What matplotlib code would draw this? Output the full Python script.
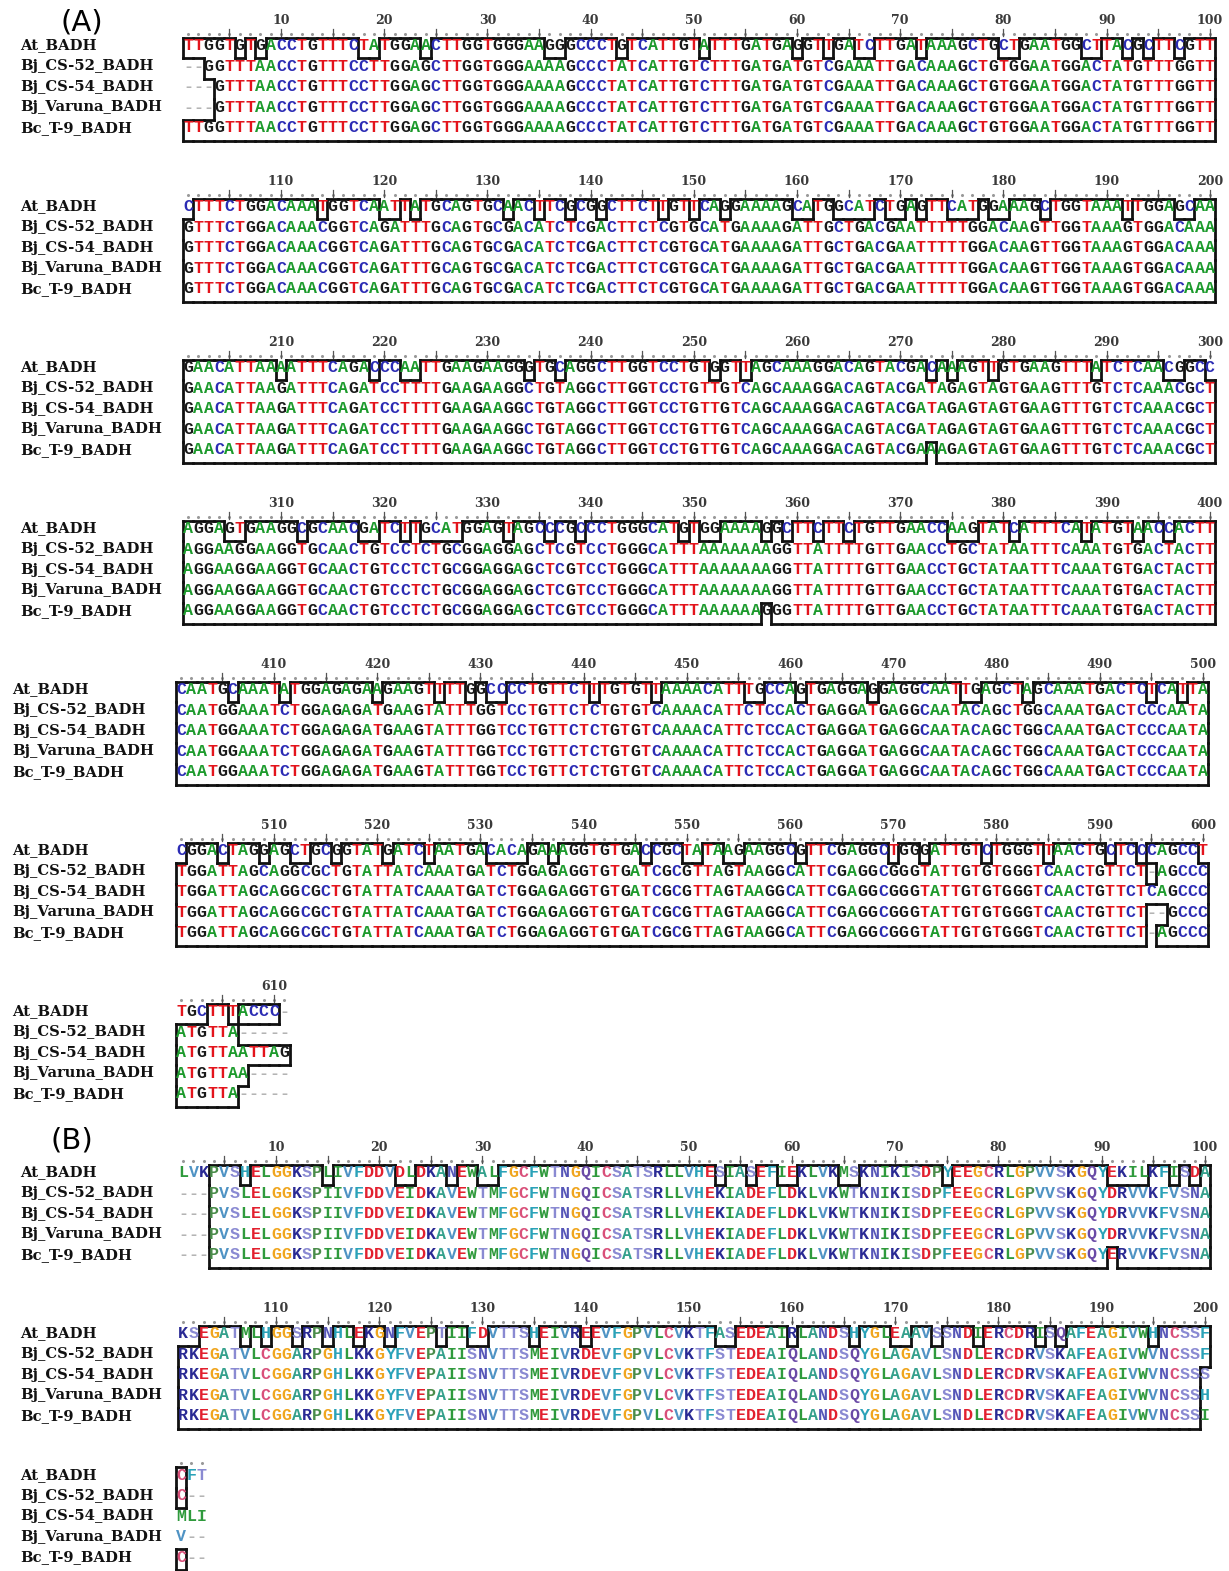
import matplotlib.pyplot as plt
from matplotlib.collections import LineCollection

names = ['At_BADH', 'Bj_CS-52_BADH', 'Bj_CS-54_BADH', 'Bj_Varuna_BADH', 'Bc_T-9_BADH']

# nucleotide alignment, one string per 100-column block
at_dna = [
    "TTGGTGTGAC" "CTGTTTCTAT" "GGAACTTGGT" "GGGAAGGGCC" "CTGTCATTGT" "ATTTGATGAG" "GTTGATCTTG" "ATAAAGCTGC" "TGAATGGCTT" "ACGCTTCGTT",
    "CTTTCTGGAC" "AAATGGTCAA" "TTATGCAGTG" "CAACTTCGCG" "GCTTCTTGTT" "CAGGAAAAGC" "ATGGCATCTG" "AGTTCATGGA" "AAGCTGGTAA" "ATTGGAGCAA",
    "GAACATTAAA" "ATTTCAGACC" "CAATTGAAGA" "AGGGTGCAGG" "CTTGGTCCTG" "TGGTTAGCAA" "AGGACAGTAC" "GACAAAGTTG" "TGAAGTTTAT" "CTCAACGGCC",
    "AGGAGTGAAG" "GCGCAACGAT" "CTTGCATGGA" "GTAGCCCGCC" "CTGGGCATGT" "GGAAAAGGCT" "TCTTCTGTTG" "AACCAAGTAT" "CATTTCATAT" "GTAACCACTT",
    "CAATGCAAAT" "ATGGAGAGAA" "GAAGTTTTGG" "CCCCTGTTCT" "TTGTGTTAAA" "ACATTTGCCA" "GTGAGGAGGA" "GGCAATTGAG" "CTAGCAAATG" "ACTCTCATTA",
    "CGGACTAGGA" "GCTGCGGTAT" "GATCTAATGA" "CACAGAAAGG" "TGTGACCGCT" "ATAAGAAGGC" "GTTCGAGGCT" "GGGATTGTCT" "GGGTTAACTG" "CTCCCAGCCT",
    "TGCTTTACCC-",
]
cs52_dna = [
    "--GGTTTAAC" "CTGTTTCCTT" "GGAGCTTGGT" "GGGAAAAGCC" "CTATCATTGT" "CTTTGATGAT" "GTCGAAATTG" "ACAAAGCTGT" "GGAATGGACT" "ATGTTTGGTT",
    "GTTTCTGGAC" "AAACGGTCAG" "ATTTGCAGTG" "CGACATCTCG" "ACTTCTCGTG" "CATGAAAAGA" "TTGCTGACGA" "ATTTTTGGAC" "AAGTTGGTAA" "AGTGGACAAA",
    "GAACATTAAG" "ATTTCAGATC" "CTTTTGAAGA" "AGGCTGTAGG" "CTTGGTCCTG" "TTGTCAGCAA" "AGGACAGTAC" "GATAGAGTAG" "TGAAGTTTGT" "CTCAAACGCT",
    "AGGAAGGAAG" "GTGCAACTGT" "CCTCTGCGGA" "GGAGCTCGTC" "CTGGGCATTT" "AAAAAAAGGT" "TATTTTGTTG" "AACCTGCTAT" "AATTTCAAAT" "GTGACTACTT",
    "CAATGGAAAT" "CTGGAGAGAT" "GAAGTATTTG" "GTCCTGTTCT" "CTGTGTCAAA" "ACATTCTCCA" "CTGAGGATGA" "GGCAATACAG" "CTGGCAAATG" "ACTCCCAATA",
    "TGGATTAGCA" "GGCGCTGTAT" "TATCAAATGA" "TCTGGAGAGG" "TGTGATCGCG" "TTAGTAAGGC" "ATTCGAGGCG" "GGTATTGTGT" "GGGTCAACTG" "TTCT-AGCCC",
    "ATGTTA-----",
]
cs54_dna = [
    "---GTTTAAC" "CTGTTTCCTT" "GGAGCTTGGT" "GGGAAAAGCC" "CTATCATTGT" "CTTTGATGAT" "GTCGAAATTG" "ACAAAGCTGT" "GGAATGGACT" "ATGTTTGGTT",
    "GTTTCTGGAC" "AAACGGTCAG" "ATTTGCAGTG" "CGACATCTCG" "ACTTCTCGTG" "CATGAAAAGA" "TTGCTGACGA" "ATTTTTGGAC" "AAGTTGGTAA" "AGTGGACAAA",
    "GAACATTAAG" "ATTTCAGATC" "CTTTTGAAGA" "AGGCTGTAGG" "CTTGGTCCTG" "TTGTCAGCAA" "AGGACAGTAC" "GATAGAGTAG" "TGAAGTTTGT" "CTCAAACGCT",
    "AGGAAGGAAG" "GTGCAACTGT" "CCTCTGCGGA" "GGAGCTCGTC" "CTGGGCATTT" "AAAAAAAGGT" "TATTTTGTTG" "AACCTGCTAT" "AATTTCAAAT" "GTGACTACTT",
    "CAATGGAAAT" "CTGGAGAGAT" "GAAGTATTTG" "GTCCTGTTCT" "CTGTGTCAAA" "ACATTCTCCA" "CTGAGGATGA" "GGCAATACAG" "CTGGCAAATG" "ACTCCCAATA",
    "TGGATTAGCA" "GGCGCTGTAT" "TATCAAATGA" "TCTGGAGAGG" "TGTGATCGCG" "TTAGTAAGGC" "ATTCGAGGCG" "GGTATTGTGT" "GGGTCAACTG" "TTCTCAGCCC",
    "ATGTTAATTAG",
]
varuna_dna = [
    "---GTTTAAC" "CTGTTTCCTT" "GGAGCTTGGT" "GGGAAAAGCC" "CTATCATTGT" "CTTTGATGAT" "GTCGAAATTG" "ACAAAGCTGT" "GGAATGGACT" "ATGTTTGGTT",
    "GTTTCTGGAC" "AAACGGTCAG" "ATTTGCAGTG" "CGACATCTCG" "ACTTCTCGTG" "CATGAAAAGA" "TTGCTGACGA" "ATTTTTGGAC" "AAGTTGGTAA" "AGTGGACAAA",
    "GAACATTAAG" "ATTTCAGATC" "CTTTTGAAGA" "AGGCTGTAGG" "CTTGGTCCTG" "TTGTCAGCAA" "AGGACAGTAC" "GATAGAGTAG" "TGAAGTTTGT" "CTCAAACGCT",
    "AGGAAGGAAG" "GTGCAACTGT" "CCTCTGCGGA" "GGAGCTCGTC" "CTGGGCATTT" "AAAAAAAGGT" "TATTTTGTTG" "AACCTGCTAT" "AATTTCAAAT" "GTGACTACTT",
    "CAATGGAAAT" "CTGGAGAGAT" "GAAGTATTTG" "GTCCTGTTCT" "CTGTGTCAAA" "ACATTCTCCA" "CTGAGGATGA" "GGCAATACAG" "CTGGCAAATG" "ACTCCCAATA",
    "TGGATTAGCA" "GGCGCTGTAT" "TATCAAATGA" "TCTGGAGAGG" "TGTGATCGCG" "TTAGTAAGGC" "ATTCGAGGCG" "GGTATTGTGT" "GGGTCAACTG" "TTCT--GCCC",
    "ATGTTAA----",
]
t9_dna = [
    "TTGGTTTAAC" "CTGTTTCCTT" "GGAGCTTGGT" "GGGAAAAGCC" "CTATCATTGT" "CTTTGATGAT" "GTCGAAATTG" "ACAAAGCTGT" "GGAATGGACT" "ATGTTTGGTT",
    "GTTTCTGGAC" "AAACGGTCAG" "ATTTGCAGTG" "CGACATCTCG" "ACTTCTCGTG" "CATGAAAAGA" "TTGCTGACGA" "ATTTTTGGAC" "AAGTTGGTAA" "AGTGGACAAA",
    "GAACATTAAG" "ATTTCAGATC" "CTTTTGAAGA" "AGGCTGTAGG" "CTTGGTCCTG" "TTGTCAGCAA" "AGGACAGTAC" "GAAAGAGTAG" "TGAAGTTTGT" "CTCAAACGCT",
    "AGGAAGGAAG" "GTGCAACTGT" "CCTCTGCGGA" "GGAGCTCGTC" "CTGGGCATTT" "AAAAAAGGGT" "TATTTTGTTG" "AACCTGCTAT" "AATTTCAAAT" "GTGACTACTT",
    "CAATGGAAAT" "CTGGAGAGAT" "GAAGTATTTG" "GTCCTGTTCT" "CTGTGTCAAA" "ACATTCTCCA" "CTGAGGATGA" "GGCAATACAG" "CTGGCAAATG" "ACTCCCAATA",
    "TGGATTAGCA" "GGCGCTGTAT" "TATCAAATGA" "TCTGGAGAGG" "TGTGATCGCG" "TTAGTAAGGC" "ATTCGAGGCG" "GGTATTGTGT" "GGGTCAACTG" "TTCT-AGCCC",
    "ATGTTA-----",
]

# deduced protein alignment
at_aa = [
    "LVKPVSHELG" "GKSPLIVFDD" "VDLDKANEWA" "LFGCFWTNGQ" "ICSATSRLLV" "HESIASEFIE" "KLVKMSKNIK" "ISDPYEEGCR" "LGPVVSKGQY" "EKILKFISDA",
    "KSEGATMLHG" "GSRPNHLEKG" "NFVEPTIIFD" "VTTSHEIVRE" "EVFGPVLCVK" "TFASEDEAIR" "LANDSHYGLE" "AAVSSNDIER" "CDRISQAFEA" "GIVWHNCSSF",
    "CFT",
]
cs52_aa = [
    "---PVSLELG" "GKSPIIVFDD" "VEIDKAVEWT" "MFGCFWTNGQ" "ICSATSRLLV" "HEKIADEFLD" "KLVKWTKNIK" "ISDPFEEGCR" "LGPVVSKGQY" "DRVVKFVSNA",
    "RKEGATVLCG" "GARPGHLKKG" "YFVEPAIISN" "VTTSMEIVRD" "EVFGPVLCVK" "TFSTEDEAIQ" "LANDSQYGLA" "GAVLSNDLER" "CDRVSKAFEA" "GIVWVNCSSF",
    "C--",
]
cs54_aa = [
    "---PVSLELG" "GKSPIIVFDD" "VEIDKAVEWT" "MFGCFWTNGQ" "ICSATSRLLV" "HEKIADEFLD" "KLVKWTKNIK" "ISDPFEEGCR" "LGPVVSKGQY" "DRVVKFVSNA",
    "RKEGATVLCG" "GARPGHLKKG" "YFVEPAIISN" "VTTSMEIVRD" "EVFGPVLCVK" "TFSTEDEAIQ" "LANDSQYGLA" "GAVLSNDLER" "CDRVSKAFEA" "GIVWVNCSSS",
    "MLI",
]
varuna_aa = [
    "---PVSLELG" "GKSPIIVFDD" "VEIDKAVEWT" "MFGCFWTNGQ" "ICSATSRLLV" "HEKIADEFLD" "KLVKWTKNIK" "ISDPFEEGCR" "LGPVVSKGQY" "DRVVKFVSNA",
    "RKEGATVLCG" "GARPGHLKKG" "YFVEPAIISN" "VTTSMEIVRD" "EVFGPVLCVK" "TFSTEDEAIQ" "LANDSQYGLA" "GAVLSNDLER" "CDRVSKAFEA" "GIVWVNCSSH",
    "V--",
]
t9_aa = [
    "---PVSLELG" "GKSPIIVFDD" "VEIDKAVEWT" "MFGCFWTNGQ" "ICSATSRLLV" "HEKIADEFLD" "KLVKWTKNIK" "ISDPFEEGCR" "LGPVVSKGQY" "ERVVKFVSNA",
    "RKEGATVLCG" "GARPGHLKKG" "YFVEPAIISN" "VTTSMEIVRD" "EVFGPVLCVK" "TFSTEDEAIQ" "LANDSQYGLA" "GAVLSNDLER" "CDRVSKAFEA" "GIVWVNCSSI",
    "C--",
]

dna_colors = {'A': '#1c9a2c', 'T': '#e3141c', 'G': '#1a1a1a', 'C': '#2c2cb4', '-': '#b4b4b4'}
aa_colors = {
    'A': '#34a08c', 'V': '#4f93c4', 'L': '#2f9a3c', 'I': '#2f9a3c', 'M': '#2f9a3c',
    'W': '#2f9a3c', 'P': '#4a8c4a', 'F': '#2aa2b8', 'C': '#d9507a', 'H': '#2aa2b8',
    'Y': '#2aa2b8', 'G': '#f0a51e', 'S': '#8a8ad2', 'T': '#8a8ad2', 'N': '#5656b8',
    'Q': '#6a4aa6', 'K': '#2a2a94', 'R': '#2a2a94', 'D': '#e2202e', 'E': '#e2202e',
    '-': '#b4b4b4',
}

COL_W = 10.32
ROW_H = 20.6


def matched_cells(rows, min_count):
    # a residue counts as conserved when it is the most frequent one in its column
    ncol = len(rows[0])
    match = [[False] * ncol for _ in rows]
    for c in range(ncol):
        counts = {}
        for seq in rows:
            if seq[c] != '-':
                counts[seq[c]] = counts.get(seq[c], 0) + 1
        if not counts:
            continue
        top = max(counts.values())
        if top < min_count:
            continue
        for i, seq in enumerate(rows):
            if seq[c] != '-' and counts.get(seq[c], 0) == top:
                match[i][c] = True
    return match


def draw_block(ax, rows, start, x0, y0, label_x, colors, min_count):
    ncol = len(rows[0])
    nrow = len(rows)
    xs = [x0 + (c + 0.5) * COL_W for c in range(ncol)]
    ys = [y0 + i * ROW_H for i in range(nrow)]

    # ruler
    ax.plot(xs, [y0 - 12] * ncol, ls='none', marker='o', ms=1.2, color='#999999')
    for c in range(ncol):
        n = start + c + 1
        if n % 5 == 0:
            ax.plot([xs[c], xs[c]], [y0 - 17, y0 - 10], color='#555555', lw=0.9)
        if n % 10 == 0:
            ax.text(xs[c], y0 - 25, str(n), ha='center', va='center', fontsize=9,
                    family='DejaVu Serif', fontweight='bold', color='#3a3a3a')

    for i in range(nrow):
        ax.text(label_x, ys[i], names[i], ha='left', va='center', fontsize=10.6,
                family='DejaVu Serif', fontweight='bold', color='#111111')
        for c, ch in enumerate(rows[i]):
            ax.text(xs[c], ys[i], ch, ha='center', va='center', fontsize=12,
                    family='Liberation Mono', fontweight='bold', color=colors[ch])

    # outline around the conserved cells
    match = matched_cells(rows, min_count)
    segs = []
    for i in range(nrow):
        top = ys[i] - 8
        bot = top + ROW_H
        for c in range(ncol):
            if not match[i][c]:
                continue
            left = x0 + c * COL_W
            right = left + COL_W
            if i == 0 or not match[i - 1][c]:
                segs.append([(left, top), (right, top)])
            if i == nrow - 1 or not match[i + 1][c]:
                segs.append([(left, bot), (right, bot)])
            if c == 0 or not match[i][c - 1]:
                segs.append([(left, top), (left, bot)])
            if c == ncol - 1 or not match[i][c + 1]:
                segs.append([(right, top), (right, bot)])
    ax.add_collection(LineCollection(segs, colors='#111111', linewidths=2.0,
                                     capstyle='projecting'))


fig = plt.figure(figsize=(12.29, 15.71), dpi=100)
ax = fig.add_axes([0, 0, 1, 1])
ax.set_xlim(0, 1229)
ax.set_ylim(1571, 0)
ax.axis('off')

dna_rows = [at_dna, cs52_dna, cs54_dna, varuna_dna, t9_dna]
dna_y = [45.5, 206.5, 367.5, 528.5, 689.5, 850.5, 1011.5]
dna_x = [183, 183, 183, 183, 176, 176, 176]
dna_label_x = [20, 20, 20, 20, 12, 12, 12]
for b in range(len(dna_y)):
    rows = [r[b] for r in dna_rows]
    draw_block(ax, rows, b * 100, dna_x[b], dna_y[b], dna_label_x[b], dna_colors, 1)

aa_rows = [at_aa, cs52_aa, cs54_aa, varuna_aa, t9_aa]
aa_y = [1172.5, 1333.5, 1475]
aa_x = [178, 178, 176]
aa_label_x = [20, 20, 20]
for b in range(len(aa_y)):
    rows = [r[b] for r in aa_rows]
    draw_block(ax, rows, b * 100, aa_x[b], aa_y[b], aa_label_x[b], aa_colors, 2)

ax.text(82, 22, '(A)', ha='center', va='center', fontsize=21, family='DejaVu Sans')
ax.text(72, 1141, '(B)', ha='center', va='center', fontsize=21, family='DejaVu Sans')

fig.savefig('out.png', dpi=100)
